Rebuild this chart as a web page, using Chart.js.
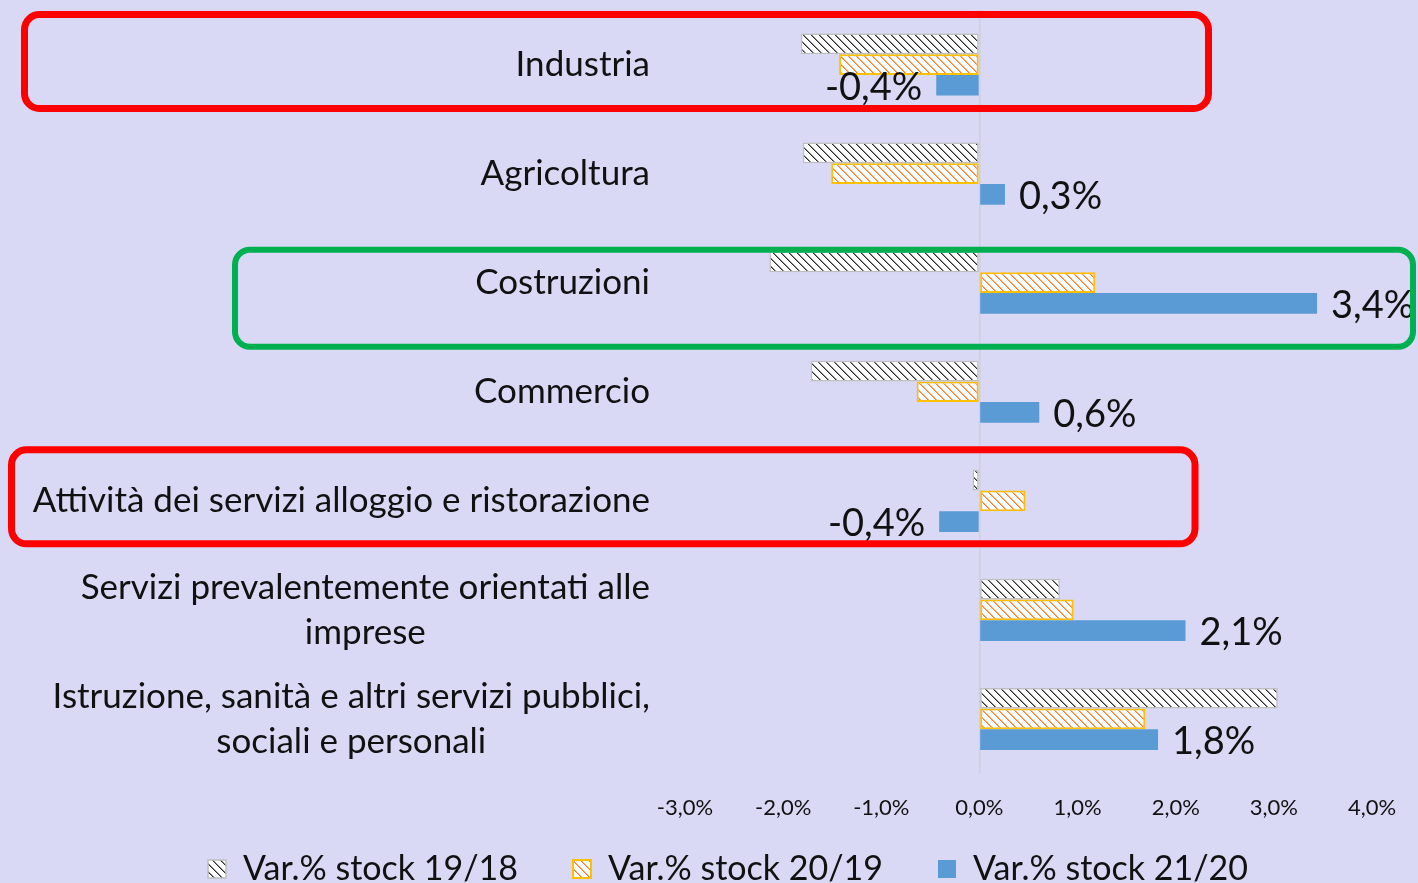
<!DOCTYPE html>
<html>
<head>
<meta charset="utf-8">
<script src="https://cdn.jsdelivr.net/npm/chart.js@4.4.1/dist/chart.umd.min.js"></script>
<style>
  html, body { margin: 0; padding: 0; background: #d9d9f5; }
  #wrap { width: 1418px; height: 883px; position: relative; }
</style>
</head>
<body>
<div id="wrap"><canvas id="chart" width="1418" height="883"></canvas></div>
<script>
// categories (multi-line labels as arrays)
const categories = [
    ['Industria'],
    ['Agricoltura'],
    ['Costruzioni'],
    ['Commercio'],
    ['Attività dei servizi alloggio e ristorazione'],
    ['Servizi prevalentemente orientati alle', 'imprese'],
    ['Istruzione, sanità e altri servizi pubblici,', 'sociali e personali']
];
const seriesNames = ['Var.% stock 19/18', 'Var.% stock 20/19', 'Var.% stock 21/20'];
const var1918 = [-1.82, -1.80, -2.14, -1.72, -0.07, 0.82, 3.04];
const var2019 = [-1.43, -1.51, 1.18, -0.64, 0.47, 0.96, 1.69];
const var2120 = [-0.44, 0.26, 3.44, 0.61, -0.41, 2.10, 1.82];
const xTicks = [-3, -2, -1, 0, 1, 2, 3, 4];

const FONT = 'Lato, "Open Sans", sans-serif';

function fmtPct(v) {
    return v.toFixed(1).replace('.', ',') + '%';
}

// 8x8 downward diagonal hatch, pixel by pixel like the office pattern
function makeHatch(bg, dark, light) {
    let size = 8;
    let c = document.createElement('canvas');
    c.width = size; c.height = size;
    let g = c.getContext('2d');
    g.fillStyle = bg;
    g.fillRect(0, 0, size, size);
    for (let y = 0; y < size; y++) {
        for (let x = 0; x < size; x++) {
            let d = ((x - y) % size + size) % size;
            if (d === 0) { g.fillStyle = dark; g.fillRect(x, y, 1, 1); }
            if (d === 1) { g.fillStyle = light; g.fillRect(x, y, 1, 1); }
        }
    }
    return g.createPattern(c, 'repeat');
}

const ctx = document.getElementById('chart').getContext('2d');
const greyHatch = makeHatch('#ffffff', '#303030', '#8a8a8a');
const orangeHatch = makeHatch('#ffffff', '#ed7d31', '#f4b183');

// y labels drawn by hand so wrapped lines are centred in their block
const yLabelPlugin = {
    id: 'yLabels',
    afterDraw(chart) {
        let c = chart.ctx;
        let y = chart.scales.y;
        c.save();
        c.font = '35px ' + FONT;
        c.fillStyle = '#111';
        c.textBaseline = 'middle';
        c.textAlign = 'center';
        let right = 650, lineH = 45;
        categories.forEach((lines, i) => {
            let cy = y.getPixelForValue(i);
            let w = Math.max(...lines.map(l => c.measureText(l).width));
            let cx = right - w / 2;
            let y0 = cy - (lines.length - 1) * lineH / 2;
            lines.forEach((l, k) => c.fillText(l, cx, y0 + k * lineH));
        });
        c.restore();
    }
};

// value labels for the 21/20 series
const valueLabelPlugin = {
    id: 'valueLabels',
    afterDatasetsDraw(chart) {
        let c = chart.ctx;
        let meta = chart.getDatasetMeta(2);
        c.save();
        c.font = '38px ' + FONT;
        c.fillStyle = '#111';
        c.textBaseline = 'middle';
        meta.data.forEach((bar, i) => {
            let v = var2120[i];
            if (v < 0) {
                c.textAlign = 'right';
                c.fillText(fmtPct(v), bar.x - 14, bar.y + 2);
            } else {
                c.textAlign = 'left';
                c.fillText(fmtPct(v), bar.x + 14, bar.y + 2);
            }
        });
        c.restore();
    }
};

// highlight boxes around some categories
const boxesPlugin = {
    id: 'boxes',
    afterDraw(chart) {
        let c = chart.ctx;
        let y = chart.scales.y;
        let boxes = [
            { cat: 0, x0: 24.5, x1: 1208.5, up: 50, down: 44, color: '#ff0000', lw: 7 },
            { cat: 2, x0: 235, x1: 1413, up: 33, down: 64, color: '#00b050', lw: 6 },
            { cat: 4, x0: 11.5, x1: 1195, up: 51, down: 43, color: '#ff0000', lw: 7 }
        ];
        c.save();
        boxes.forEach(b => {
            let cy = y.getPixelForValue(b.cat);
            c.strokeStyle = b.color;
            c.lineWidth = b.lw;
            c.beginPath();
            c.roundRect(b.x0, cy - b.up, b.x1 - b.x0, b.up + b.down, 15);
            c.stroke();
        });
        c.restore();
    }
};

const bgPlugin = {
    id: 'bg',
    beforeDraw(chart) {
        let c = chart.ctx;
        c.save();
        c.fillStyle = '#d9d9f5';
        c.fillRect(0, 0, chart.width, chart.height);
        c.restore();
    },
    // legend sits a bit right of centre and its row is placed by hand
    afterLayout(chart) {
        let lg = chart.legend;
        lg.left += 42;
        lg.right += 42;
        lg.top = 797;
        lg.bottom = 883;
    }
};

const chart = new Chart(ctx, {
    type: 'bar',
    data: {
        labels: categories.map(l => l.join(' ')),
        datasets: [{
            label: seriesNames[0],
            data: var1918,
            backgroundColor: greyHatch,
            borderColor: '#bfbfbf',
            borderWidth: 1.5,
            borderSkipped: false
        }, {
            label: seriesNames[1],
            data: var2019,
            backgroundColor: orangeHatch,
            borderColor: '#ffc000',
            borderWidth: 2,
            borderSkipped: false
        }, {
            label: seriesNames[2],
            data: var2120,
            backgroundColor: '#5b9bd5',
            borderWidth: 0
        }]
    },
    options: {
        indexAxis: 'y',
        responsive: false,
        animation: false,
        layout: { padding: { left: 0, right: 46, top: 10, bottom: 0 } },
        datasets: {
            bar: { categoryPercentage: 0.57, barPercentage: 1 }
        },
        scales: {
            x: {
                min: -3,
                max: 4,
                afterBuildTicks: axis => { axis.ticks = xTicks.map(v => ({ value: v })); },
                afterFit: axis => { axis.height = 49.5; },
                ticks: {
                    callback: v => fmtPct(v),
                    font: { family: FONT, size: 22 },
                    color: '#111',
                    padding: 21,
                    maxRotation: 0
                },
                grid: {
                    color: c => c.tick && c.tick.value === 0 ? '#d0d0d8' : 'rgba(0,0,0,0)',
                    lineWidth: 1.5,
                    drawTicks: false
                },
                border: { display: false }
            },
            y: {
                ticks: { display: false },
                grid: { display: false },
                border: { display: false },
                afterFit: axis => { axis.width = 685; }
            }
        },
        plugins: {
            legend: {
                position: 'bottom',
                maxHeight: 60,
                labels: {
                    font: { family: FONT, size: 34 },
                    color: '#111',
                    boxWidth: 18,
                    boxHeight: 18,
                    padding: 55
                }
            },
            tooltip: { enabled: false }
        }
    },
    plugins: [bgPlugin, yLabelPlugin, valueLabelPlugin, boxesPlugin]
});
</script>
</body>
</html>
